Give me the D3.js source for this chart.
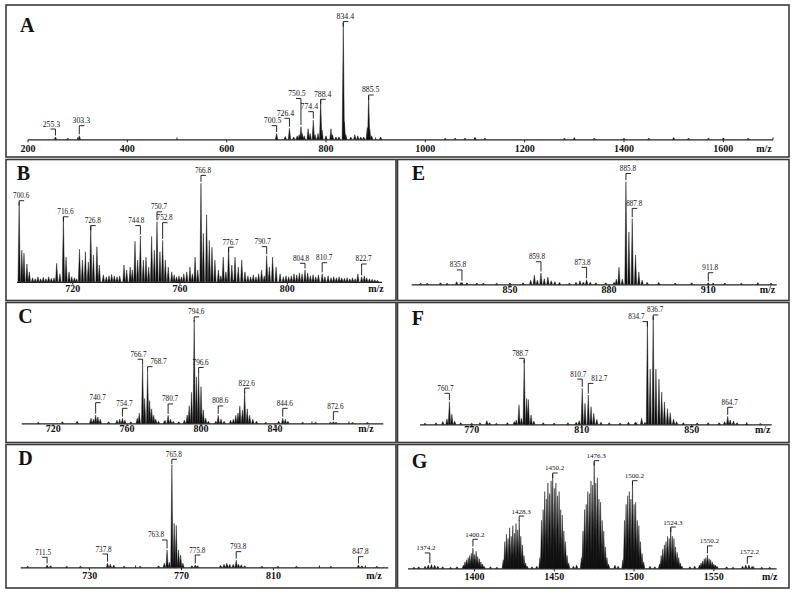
<!DOCTYPE html>
<html><head><meta charset="utf-8">
<script src="https://cdn.jsdelivr.net/npm/d3@7"></script>
<style>body{margin:0;background:#fff}svg{display:block}</style>
</head><body><svg id="c" width="793" height="593"></svg>
<script>
// ---------- DATA (m/z position on axis, relative intensity %) ----------
const aMz  = [255.3,280,303.3,700.6,718,726.4,735,742,746,749.6,752,756,764,768,774.4,778,784,789.3,792,800,810,813,820,826,834.8,837,840,850,858,864,870,876,883,885.9,888,892,910,1040,1060,1080,1100,1120,1280,1300,1340,1400,1450,1500,1530,1570,1600,1650];
const aInt = [2,1,3,5,2.5,9.5,2,3,4,11,5,3,9,5,16.5,4,5,34,8,3,9,4,2,2,100,15,4,2,4,3,2,2,10,37,9,3,2,1,1,1,1.5,1,1,1,1,1,1,1.2,1,1,1.2,1];
const aLabText  = ["255.3","303.3","700.5","726.4","750.5","774.4","788.4","834.4","885.5"];
const aLabMz    = [255.3,303.3,700.6,726.4,749.6,774.4,789.3,834.8,885.9];
const aLabLevel = [8.8,11.7,11.7,18,35,23.7,34.3,101,38];
const aLabSide  = [-1,1,-1,-1,-1,-1,1,1,1];
const aTicks = [200,400,600,800,1000,1200,1400,1600];
const aMinor = [300,500,700,900,1100,1300,1500,1700];

const bMz  = [700.0,701.0,701.8,702.9,703.8,705,706,707,708,709,710,711,712,713,714.0,715.2,716.5,717.5,718.6,719.6,720.6,721.4,722.5,723.6,724.7,725.8,726.7,727.7,729.0,729.9,731.4,732.5,733.5,734.5,735.5,736.5,737.5,739.1,740.1,741.4,742.2,743.2,744.2,745.2,746.3,747.3,748.3,749.4,750.4,751.4,752.5,753.5,754.5,755.6,756.9,757.8,758.7,759.6,760.5,761.4,762.5,763.7,764.6,765.6,766.6,767.8,768.7,769.9,770.9,771.9,773.0,774.3,775.2,776.1,777.1,778.1,779.3,780.5,781.7,783.0,784.2,785.3,786.3,787.3,788.3,789.3,790.4,791.4,792.3,793.3,794.5,795.8,797.3,798.5,799.5,800.5,801.5,802.5,803.5,804.5,805.5,806.6,807.6,808.6,809.6,810.6,811.6,813.0,814.0,815.2,816.3,817.3,818.3,819.3,820.3,821.3,822.3,823.3,824.3,825.3,826.3,827.7,828.7,829.6,830.6,831.6,832.6,833.6,834.6];
const bInt = [81,32,29,18,10,4,3,5,3,4.5,3,5,3.5,4,18.7,8,66,25,10,5,4,3,33,22,30.5,20,57,27,35.6,17,7,5,6,7.5,6,5,6,17,12,15,12,41,22,46.4,22,25,15,46,32,61,30.5,42,22,15,10,7,5,6,5,8,10,15,8,25,12,100,49,68,42,35,22,12,6,25,10,34,17,25,15,22,10,6,5,7,5,8,12,6,26.4,15,25,15,8,5,6,5,6,8,7,9,8,12,9,6,7,5,7,8,5,6,4,5,4,5,4,3.5,4,3,4,3,8,5,6,4,3,2.5,2,1.5];
const bLabText  = ["700.6","716.6","726.8","744.8","750.7","752.8","766.8","776.7","790.7","804.8","810.7","822.7"];
const bLabMz    = [700.0,716.5,726.7,745.2,751.4,753.5,767.8,778.1,792.3,806.6,813.0,827.7];
const bLabLevel = [82.3,66,57,57,71,60,108,35,35.6,18.7,19.3,18];
const bLabSide  = [1,1,1,-1,1,1,1,1,-1,-1,1,1];
const bTicks = [720,760,800];
const bMinor = [740,780,820];

const cMz  = [712,725,733,740.5,741.8,743.0,744.2,745.5,750,754.5,756,757.5,758.8,762,765.5,766.6,768.4,769.5,771.1,772.2,773.3,774.4,775.5,777,780.5,782.2,783.5,785,788,791,792.5,793.6,794.9,796.3,797.5,798.7,800.0,801.2,802.5,804,808,809.3,810.8,812.5,816,817.5,818.8,820,821,822.4,823.6,825,826.3,828,830,835,842,844.2,845.6,847,855,862,870,871.6,873,882,890];
const cInt = [1,1.5,2,5,4,8,6,4,1.5,3,4,5,3,1.5,5,10,57,24,50,22,14,7.7,4,2,3,7.7,4,2,1.5,3,8,17,30,100,45,50,35.5,13,5,2,2,7.7,4,2,3,4,7.7,10,16.8,12.9,31,14,7.7,4,2,1,2,5,4,2,1,1,1,1.6,1,0.8,0.8];
const cLabText  = ["740.7","754.7","766.7","768.7","780.7","794.6","796.6","808.6","822.6","844.6","872.6"];
const cLabMz    = [743.0,757.5,768.4,771.1,782.2,796.3,798.7,809.3,823.6,844.2,871.6];
const cLabLevel = [20,14.5,62,54.8,18.7,103,54,16.8,34,14.5,11.2];
const cLabSide  = [1,1,-1,2,1,1,1,1,1,1,1];
const cTicks = [720,760,800,840];
const cMinor = [740,780,820,860,880];

const dMz  = [703,711.5,713,720,726,737.8,739,740.5,745,752,760,762.5,763.7,764.7,765.8,766.8,767.7,768.7,769.6,770.6,774.5,776,777,787,788.5,789.7,791,792.5,793.8,794.8,796,797.5,805,812,820,835,847,848.5,855];
const dInt = [1,2.3,1.5,1,1,4,3,2,1,1,1.5,4,17,5,100,43,41,17,12,4,1.5,2.3,1.5,2,3,3.9,3,3,7,3,2.5,1.5,1,1,1,1,2.3,1.5,1];
const dLabText  = ["711.5","737.8","763.8","765.8","775.8","793.8","847.8"];
const dLabMz    = [711.5,737.8,763.7,765.8,776,793.8,847];
const dLabLevel = [9.8,13,26.7,105.6,12,15.3,10.4];
const dLabSide  = [-1,-1,-2,1,1,1,1];
const dTicks = [730,770,810];
const dMinor = [750,790,830,850];

const eMz  = [823,825,829,831,833.9,835.5,837,840,842,846,850,854,856.3,857.4,858.3,859.4,860.4,861.5,862.5,863.6,865,868,870,871.2,872.2,873.2,874.3,876,879,881.5,882.2,883.0,884.0,885.1,886.0,887.0,888.0,889.0,890.0,891.5,895,900,905,910,911.5,915,920,925,929];
const eInt = [1,1,1.5,1,2.6,2,1.5,1.2,1.2,1,1.2,1.5,4,9,4,11,5.5,7,3.5,2.6,1.5,1.2,2,3.5,2,4.5,2,1.5,1.5,2,5,16.5,5,100,51,64,28.6,12,4,2,1.5,1.2,1.5,1.5,1.2,1.2,1,1,1];
const eLabText  = ["835.8","859.8","873.8","885.8","887.8","911.8"];
const eLabMz    = [835.5,859.4,873.2,885.1,887.0,910];
const eLabLevel = [14,22,16.5,108,74,11.3];
const eLabSide  = [-1,-1,-1,1,1,1];
const eTicks = [850,880,910];
const eMinor = [835,865,895,925];

const fMz  = [753,757,759.5,761,761.9,762.8,763.8,766,770,773,775.5,776.5,779,783,785.5,786.2,787.2,788.1,789.1,790.0,790.6,791.6,792.6,796,800,805,808,809.1,810.2,811.2,812.4,813.4,814.4,815.5,817,820,824,827,829.5,831.8,833.0,833.9,834.9,836.0,837.0,838.1,839.1,840.1,841.2,842.2,843.4,844.5,847,852,856,860,862,863.1,864.0,865.2,866.5,870,875];
const fInt = [1,1.5,2.5,5,21,9.3,3,1.5,1,1.5,3.4,1.5,1,1.5,2.5,4,18,5.6,59.8,24,23,8.7,3,1.5,1.2,1.5,2,3.4,33.4,19.5,27.2,16.4,10.2,4.6,2,1.5,1.2,2,2,5.6,2,96,51.4,100,51.4,42,30,20.8,14.6,10.8,5,2.5,1.5,1.2,1.5,1.5,2.5,7.4,4,3,1.5,1,0.8];
const fLabText  = ["760.7","788.7","810.7","812.7","834.7","836.7","864.7"];
const fLabMz    = [761.9,789.1,810.2,812.4,833.9,836.0,863.1];
const fLabLevel = [28.8,61.3,42,38,95.4,101.6,15.8];
const fLabSide  = [-1,-1,-1,2,-2,1,1];
const fTicks = [770,810,850];
const fMinor = [790,830,870];

const gMz  = [1362,1365,1369,1371,1373,1375,1377,1380,1385,1389,1393,1394,1395,1396,1397,1398,1399,1400,1401,1402,1403,1404,1405,1406,1410,1414,1418,1419,1420,1421,1422,1423,1424,1425,1426,1427,1428,1429,1430,1431,1432,1433,1436,1439,1441,1442,1443,1444,1445,1446,1447,1448,1449,1450,1451,1452,1453,1454,1455,1456,1457,1458,1459,1462,1464,1467,1468,1469,1470,1471,1472,1473,1474,1475,1476,1477,1478,1479,1480,1481,1482,1483,1484,1488,1490,1493,1494,1495,1496,1497,1498,1499,1500,1501,1502,1503,1504,1505,1506,1510,1513,1516,1517,1518,1519,1520,1521,1522,1523,1524,1525,1526,1527,1528,1529,1530,1535,1538,1541,1542,1543,1544,1545,1546,1547,1548,1549,1550,1551,1552,1558,1562,1568,1570,1572,1574,1580,1585];
const gInt = [1,1.5,2,3,3.5,3,2,1.5,1,1.5,3,6,8,10,12,14,19,13,16,11,9,6,4,2,1.5,1,8,25,32,28,38,30,40,33,42,36,45,30,22,12,5,2,1.5,2,10,45,55,72,65,80,70,82,88,75,80,68,72,55,50,35,25,12,5,2,3,10,35,55,60,72,70,82,78,100,80,85,65,62,45,35,20,10,4,3,2,8,45,60,68,72,65,81,60,62,45,40,25,14,6,2,1.5,4,12,18,22,25,30,28,38,30,28,20,15,10,5,2,1.5,2,3,5,7,9,10,12.5,9,8,6,4,3,2,1.5,1,2,3,3,2,1,1];
const gLabText  = ["1374.2","1400.2","1428.3","1450.2","1476.3","1500.2","1524.3","1550.2","1572.2"];
const gLabMz    = [1372,1399,1428,1449,1475,1499,1523,1546,1571];
const gLabLevel = [14.4,27.2,49,89.4,101,82.2,38.7,21,10.9];
const gLabSide  = [-1,1,1,1,1,1,1,1,1];
const gTicks = [1400,1450,1500,1550];
const gMinor = [1375,1425,1475,1525,1575];

// ---------- LAYOUT ----------
const panels = [
 {L:"A",box:[6,5,789,157],dom:[200,1700],rng:[28,773],base:139.3,H:116.6,lx:20,ly:31.7,tdy:12.4,mzx:764,
  mz:aMz,it:aInt,lt:aLabText,lm:aLabMz,ll:aLabLevel,ls:aLabSide,ticks:aTicks,minor:aMinor,fs:7.8},
 {L:"B",box:[6,159.5,396,300.5],dom:[699.2,835.3],rng:[17,382],base:281.7,H:98.4,lx:16.7,ly:180,tdy:10.6,mzx:376,
  mz:bMz,it:bInt,lt:bLabText,lm:bLabMz,ll:bLabLevel,ls:bLabSide,ticks:bTicks,minor:bMinor,fs:7.2},
 {L:"E",box:[397.5,159.5,789,300.5],dom:[820.3,930.7],rng:[411.7,776.7],base:284.3,H:102.6,lx:411.7,ly:180,tdy:8.6,mzx:767.5,
  mz:eMz,it:eInt,lt:eLabText,lm:eLabMz,ll:eLabLevel,ls:eLabSide,ticks:eTicks,minor:eMinor,fs:7.2},
 {L:"C",box:[6,302.5,396,442.5],dom:[703,898.6],rng:[21.7,383.3],base:423.3,H:103.3,lx:18.3,ly:323.3,tdy:8.6,mzx:366,
  mz:cMz,it:cInt,lt:cLabText,lm:cLabMz,ll:cLabLevel,ls:cLabSide,ticks:cTicks,minor:cMinor,fs:7.2},
 {L:"F",box:[397.5,302.5,789,442.5],dom:[751.2,879.1],rng:[420,771.7],base:424.3,H:107.6,lx:411.7,ly:325,tdy:9,mzx:762.7,
  mz:fMz,it:fInt,lt:fLabText,lm:fLabMz,ll:fLabLevel,ls:fLabSide,ticks:fTicks,minor:fMinor,fs:7.2},
 {L:"D",box:[6,444.5,396,588],dom:[700,860],rng:[20.7,388.3],base:567.3,H:102.3,lx:18.3,ly:465,tdy:12,mzx:374,
  mz:dMz,it:dInt,lt:dLabText,lm:dLabMz,ll:dLabLevel,ls:dLabSide,ticks:dTicks,minor:dMinor,fs:7.2},
 {L:"G",box:[397.5,444.5,789,588],dom:[1358.3,1589.4],rng:[408,776.7],base:568.3,H:106.6,lx:411.7,ly:468.3,tdy:11.7,mzx:769.7,
  mz:gMz,it:gInt,lt:gLabText,lm:gLabMz,ll:gLabLevel,ls:gLabSide,ticks:gTicks,minor:gMinor,fs:7}
];

const svg = d3.select("#c");
svg.append("rect").attr("width",793).attr("height",593).attr("fill","#fff");
const serif = "'Liberation Serif','Times New Roman',serif";
const line = d3.line();
const HW = 1.15;

panels.forEach(p => {
  const g = svg.append("g");
  const [x0,y0,x1,y1] = p.box;
  g.append("rect").attr("x",x0).attr("y",y0).attr("width",x1-x0).attr("height",y1-y0)
    .attr("fill","none").attr("stroke","#3a3a3a").attr("stroke-width",1.6);
  const x = d3.scaleLinear().domain(p.dom).range(p.rng);
  const y = d3.scaleLinear().domain([0,100]).range([p.base, p.base - p.H]);

  // axis
  g.append("line").attr("x1",p.rng[0]).attr("x2",p.rng[1]).attr("y1",p.base+0.6).attr("y2",p.base+0.6)
    .attr("stroke","#222").attr("stroke-width",1.3);
  g.selectAll("line.mj").data(p.ticks).join("line").attr("class","mj")
    .attr("x1",d=>x(d)).attr("x2",d=>x(d)).attr("y1",p.base+0.6).attr("y2",p.base+3)
    .attr("stroke","#222").attr("stroke-width",1);
  g.selectAll("line.mn").data(p.minor.filter(d=>d>=p.dom[0]&&d<=p.dom[1])).join("line").attr("class","mn")
    .attr("x1",d=>x(d)).attr("x2",d=>x(d)).attr("y1",p.base+0.6).attr("y2",p.base-1.8)
    .attr("stroke","#222").attr("stroke-width",1);
  g.selectAll("text.tk").data(p.ticks).join("text").attr("class","tk")
    .attr("x",d=>x(d)).attr("y",p.base+p.tdy).attr("text-anchor","middle")
    .attr("font-family",serif).attr("font-weight","bold").attr("font-size",10).attr("fill","#111")
    .text(d=>d);
  g.append("text").attr("x",p.mzx).attr("y",p.base+p.tdy).attr("text-anchor","middle")
    .attr("font-family",serif).attr("font-weight","bold").attr("font-size",10).attr("fill","#111").text("m/z");

  // spectrum peaks
  const pk = p.mz.map((m,i)=>({m, v:p.it[i]}));
  g.selectAll("path.pk").data(pk).join("path").attr("class","pk")
    .attr("d", d => line([[x(d.m)-HW, p.base],[x(d.m), y(d.v)],[x(d.m)+HW, p.base]]) + "Z")
    .attr("fill","#111").attr("stroke","#111").attr("stroke-width",0.45).attr("stroke-linejoin","round");

  // labels with brackets
  const labs = p.lt.map((t,i)=>({t, m:p.lm[i], lv:p.ll[i], s:p.ls[i]}));
  labs.forEach(l => {
    const lx = x(l.m), ly = y(l.lv);
    let top = p.base;
    pk.forEach(d => { if (Math.abs(x(d.m)-lx) < 1.6) top = Math.min(top, y(d.v)); });
    const len = Math.max(5, top - 1.5 - ly);
    const dir = Math.sign(l.s);
    g.append("path").attr("d", line([[lx+dir*5, ly],[lx, ly],[lx, ly+len]]))
      .attr("fill","none").attr("stroke","#111").attr("stroke-width",0.9);
    const off = l.s===1 ? 2 : l.s===-1 ? -4 : l.s===2 ? 11 : -11;
    g.append("text").attr("x", lx+off).attr("y", ly-2.5).attr("text-anchor","middle")
      .attr("font-family",serif).attr("font-size",p.fs).attr("fill","#111").text(l.t);
  });

  g.append("text").attr("x",p.lx).attr("y",p.ly).attr("font-family",serif).attr("font-weight","bold")
    .attr("font-size",20).attr("fill","#111").text(p.L);
});
</script>
</body></html>
